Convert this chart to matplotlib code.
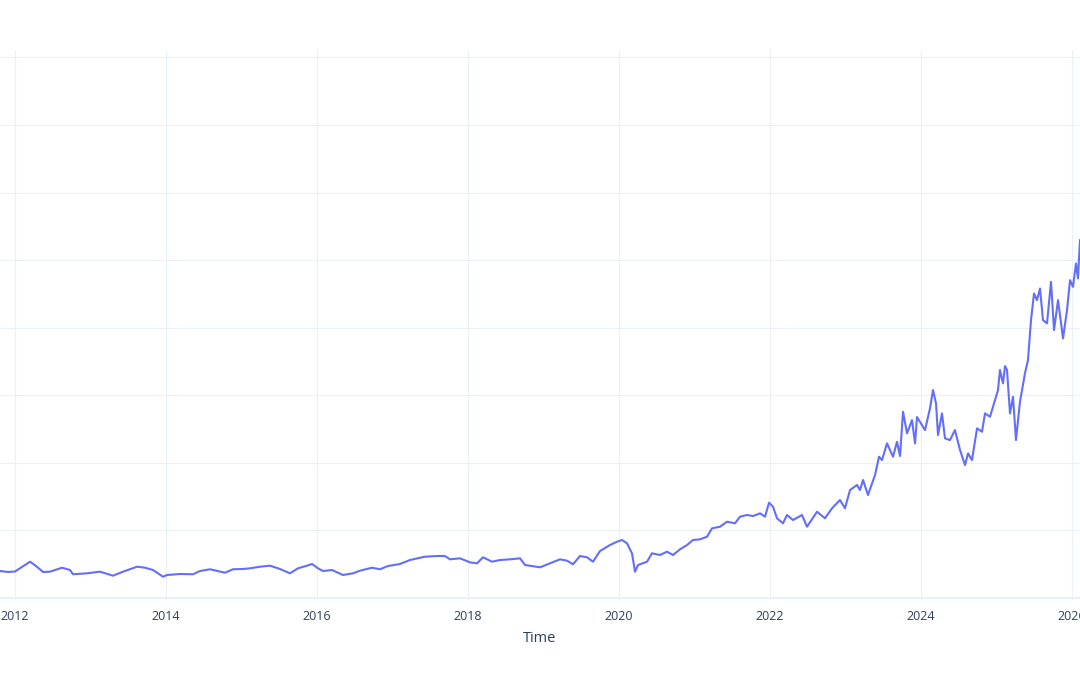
import numpy as np
import pandas as pd
import matplotlib
matplotlib.use("Agg")
import matplotlib.pyplot as plt
import matplotlib.dates as mdates

plt.rcParams['font.family'] = ['Open Sans', 'DejaVu Sans']

# waktu (tahun desimal) dan nilai harga yang dibaca dari gambar
years = [2011.801, 2011.907, 2012.000, 2012.093, 2012.199, 2012.278, 2012.371, 2012.464,
         2012.623, 2012.728, 2012.768, 2012.954, 2013.126, 2013.298, 2013.430, 2013.616,
         2013.722, 2013.828, 2013.960, 2014.013, 2014.185, 2014.358, 2014.450, 2014.583,
         2014.781, 2014.887, 2015.020, 2015.113, 2015.245, 2015.377, 2015.510, 2015.642,
         2015.748, 2015.868, 2015.934, 2016.013, 2016.079, 2016.199, 2016.344, 2016.477,
         2016.570, 2016.728, 2016.834, 2016.940, 2017.099, 2017.232, 2017.430, 2017.589,
         2017.695, 2017.762, 2017.894, 2018.026, 2018.119, 2018.199, 2018.318, 2018.424,
         2018.556, 2018.689, 2018.755, 2018.954, 2019.086, 2019.219, 2019.311, 2019.391,
         2019.483, 2019.576, 2019.656, 2019.748, 2019.881, 2019.974, 2020.040, 2020.106,
         2020.172, 2020.212, 2020.252, 2020.371, 2020.437, 2020.543, 2020.636, 2020.715,
         2020.808, 2020.901, 2020.980, 2021.073, 2021.166, 2021.232, 2021.338, 2021.430,
         2021.536, 2021.603, 2021.695, 2021.775, 2021.868, 2021.934, 2021.987, 2022.040,
         2022.093, 2022.172, 2022.225, 2022.305, 2022.424, 2022.490, 2022.623, 2022.728,
         2022.821, 2022.927, 2022.993, 2023.060, 2023.152, 2023.192, 2023.232, 2023.298,
         2023.391, 2023.444, 2023.483, 2023.550, 2023.629, 2023.682, 2023.722, 2023.762,
         2023.815, 2023.881, 2023.921, 2023.947, 2024.013, 2024.053, 2024.119, 2024.159,
         2024.199, 2024.225, 2024.278, 2024.318, 2024.384, 2024.450, 2024.517, 2024.583,
         2024.623, 2024.675, 2024.742, 2024.808, 2024.848, 2024.914, 2024.980, 2025.020,
         2025.046, 2025.086, 2025.113, 2025.139, 2025.179, 2025.219, 2025.258, 2025.311,
         2025.377, 2025.417, 2025.457, 2025.497, 2025.536, 2025.576, 2025.616, 2025.669,
         2025.722, 2025.762, 2025.815, 2025.881, 2025.934, 2025.974, 2026.013, 2026.053,
         2026.079, 2026.106]

price = [39.9, 38.5, 39.2, 45.9, 53.7, 47.3, 38.5, 38.9,
         44.8, 41.4, 35.1, 36.5, 38.9, 33.0, 38.9, 46.3,
         44.8, 41.4, 31.5, 34.0, 35.5, 35.1, 39.9, 42.5,
         37.4, 42.5, 42.9, 43.9, 46.3, 47.8, 42.9, 36.5,
         43.9, 47.8, 50.3, 43.9, 39.9, 41.4, 34.0, 36.5,
         40.4, 44.8, 42.5, 47.3, 50.3, 56.2, 61.1, 62.1,
         62.1, 57.2, 58.7, 52.8, 51.3, 60.2, 53.7, 56.2,
         57.2, 58.7, 48.8, 45.4, 51.3, 57.2, 55.2, 49.9,
         62.1, 60.2, 53.7, 69.5, 78.4, 83.3, 85.8, 80.9,
         66.1, 38.9, 48.8, 53.7, 66.1, 63.6, 68.5, 63.6,
         72.0, 78.4, 85.8, 86.8, 90.7, 103.1, 105.5, 112.9,
         110.5, 120.3, 122.8, 121.3, 125.3, 120.3, 141.0, 135.1,
         117.9, 110.5, 122.8, 115.4, 122.8, 105.5, 127.7, 117.9,
         132.7, 145.0, 132.7, 159.8, 167.2, 159.8, 174.6, 152.4,
         182.0, 209.0, 204.1, 228.8, 209.0, 231.2, 210.1, 275.6,
         243.6, 263.3, 228.8, 267.8, 255.9, 248.5, 280.6, 307.7,
         288.0, 241.1, 273.2, 236.2, 233.7, 248.5, 218.9, 196.7,
         214.1, 204.1, 251.0, 246.0, 273.2, 268.2, 292.9, 307.7,
         337.3, 317.6, 343.2, 337.3, 273.2, 297.8, 233.7, 290.4,
         332.4, 352.1, 411.2, 450.7, 440.8, 458.1, 411.2, 406.4,
         467.9, 396.5, 440.8, 384.2, 426.0, 470.4, 460.5, 495.1,
         472.9, 529.6]

y_ticks = [0, 100, 200, 300, 400, 500, 600, 700, 800]
x_label = "Time"

# ubah tahun desimal menjadi tanggal
base = pd.Timestamp("2012-01-01")
dates = [base + pd.Timedelta(days=(t - 2012) * 365.25) for t in years]

fig = plt.figure(figsize=(10.8, 6.75), dpi=100)
ax = fig.add_axes([0.0, 0.1111, 1.0, 0.8148])

ax.plot(dates, price, color="#636EFA", linewidth=1.5, zorder=3)

ax.set_ylim(-3, 811)
ax.set_yticks(y_ticks)
ax.set_yticklabels([])
ax.set_xlim(base + pd.Timedelta(days=(2011.801 - 2012) * 365.25),
            base + pd.Timedelta(days=(2026.106 - 2012) * 365.25))
ax.xaxis.set_major_locator(mdates.YearLocator(2))
ax.xaxis.set_major_formatter(mdates.DateFormatter("%Y"))

ax.grid(True, color="#EBF0F8", linewidth=0.75, zorder=0)
ax.axhline(0, color="#EBF0F8", linewidth=1.5, zorder=1)
for s in ax.spines.values():
    s.set_visible(False)
ax.tick_params(axis="both", length=0, labelsize=9, labelcolor="#2a3f5f")
ax.tick_params(axis="x", pad=7)
ax.set_xlabel(x_label, fontsize=10.5, color="#2a3f5f", labelpad=6)

fig.savefig("out.png", dpi=100)
